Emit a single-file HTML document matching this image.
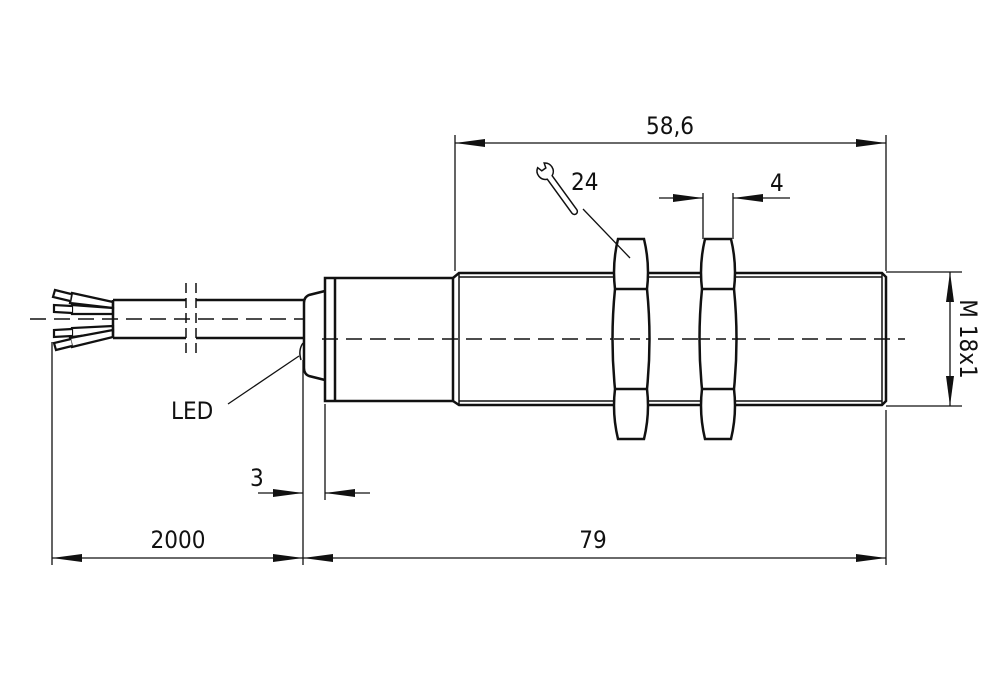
<!DOCTYPE html>
<html><head><meta charset="utf-8"><style>
html,body{margin:0;padding:0;background:#fff;}
svg{display:block;}
text{font-family:"DejaVu Sans Condensed","Liberation Sans",sans-serif;font-size:24px;fill:#111;}
</style></head><body>
<svg width="1000" height="691" viewBox="0 0 1000 691" xmlns="http://www.w3.org/2000/svg">
<g stroke="#111" fill="none" stroke-linecap="butt">
<!-- centerlines -->
<path d="M30 319 H305" stroke-width="1.5" stroke-dasharray="16,8"/>
<path d="M322 339 H905" stroke-width="1.5" stroke-dasharray="16,8"/>
<!-- wires -->
<g stroke-width="2.2" fill="#fff">
<path d="M113 302 L72 293 L70 303 L113 308 Z"/>
<path d="M113 308 L72 305 L72 314 L113 314 Z"/>
<path d="M113 326 L72 328 L72 337 L113 332 Z"/>
<path d="M113 330 L70 338 L72 347 L113 337 Z"/>
<path d="M71 294 L55 290 L53 297 L70 301"/>
<path d="M72 306 L54 305 L54 312 L72 313"/>
<path d="M72 329 L54 330 L54 337 L72 336"/>
<path d="M71 339 L54 343 L56 350 L72 346"/>
</g>
<!-- cable -->
<path d="M113 300 H186 M196 300 H305 M113 338 H186 M196 338 H305 M113 300 V338" stroke-width="2.5"/>
<path d="M186 283 V355 M196 283 V355" stroke-width="1.5" stroke-dasharray="10,5"/>
<!-- cap -->
<path d="M325 291 L309 295 Q304 297 304 303 V368 Q304 374 309 376 L325 380" stroke-width="2.5"/>
<path d="M303 343 Q298 350 301 360" stroke-width="1.5"/>
<!-- body -->
<path d="M325 278 H453 V401 H325 Z M335 278 V401" stroke-width="2.5"/>
<!-- thread -->
<path d="M453 278 L459 273 H882 L886 277 V401 L882 405 H459 L453 401" stroke-width="2.5"/>
<path d="M459 273 V405 M459 277 H882 M459 401 H882 M882 273 V405" stroke-width="1.5"/>
<!-- nuts -->
<g stroke-width="2.5" fill="#fff">
<path d="M618 239 H644 Q650 264 647 289 Q652 339 647 389 Q650 414 644 439 H618 Q612 414 615 389 Q610 339 615 289 Q612 264 618 239 Z"/>
<path d="M615 289 H647 M615 389 H647"/>
<path d="M705 239 H731 Q737 264 734 289 Q739 339 734 389 Q737 414 731 439 H705 Q699 414 702 389 Q697 339 702 289 Q699 264 705 239 Z"/>
<path d="M702 289 H734 M702 389 H734"/>
</g>
<path d="M614 339 H650 M700 339 H738" stroke-width="1.5" stroke-dasharray="10,6"/>
<!-- dimension lines -->
<g stroke-width="1.3">
<path d="M455 135 V271 M886 135 V271 M455 143 H886"/>
<path d="M703 193 V239 M733 193 V239 M659 198 H703 M733 198 H790"/>
<path d="M886 272 H962 M886 406 H962 M950 272 V406"/>
<path d="M52 342 V565 M303 360 V565 M325 404 V500 M886 410 V565"/>
<path d="M52 558 H886"/>
<path d="M258 493 H303 M325 493 H370"/>
<path d="M228 404 L299 356"/>
<path d="M583 209 L630 258"/>
</g>
<!-- wrench -->
<path transform="translate(545,171) rotate(54)" d="M8,-3 L50,-3 A3,3 0 0 1 50,3 L8,3 A8.5,8.5 0 0 1 -7,4 L-2,2.5 L-2,-2.5 L-7,-4 A8.5,8.5 0 0 1 8,-3 Z" stroke-width="1.5"/>
</g>
<!-- arrowheads -->
<g fill="#111">
<path d="M455 143 l30 -4 v8 z"/><path d="M886 143 l-30 -4 v8 z"/>
<path d="M703 198 l-30 -4 v8 z"/><path d="M733 198 l30 -4 v8 z"/>
<path d="M950 272 l-4 30 h8 z"/><path d="M950 406 l-4 -30 h8 z"/>
<path d="M52 558 l30 -4 v8 z"/><path d="M303 558 l-30 -4 v8 z"/>
<path d="M303 558 l30 -4 v8 z"/><path d="M886 558 l-30 -4 v8 z"/>
<path d="M303 493 l-30 -4 v8 z"/><path d="M325 493 l30 -4 v8 z"/>
</g>
<text x="670" y="134" text-anchor="middle">58,6</text>
<text x="571" y="190">24</text>
<text x="770" y="191">4</text>
<text x="171" y="419">LED</text>
<text x="250" y="486">3</text>
<text x="178" y="548" text-anchor="middle">2000</text>
<text x="593" y="548" text-anchor="middle">79</text>
<text transform="translate(960,339) rotate(90)" text-anchor="middle">M 18x1</text>
</svg>
</body></html>
